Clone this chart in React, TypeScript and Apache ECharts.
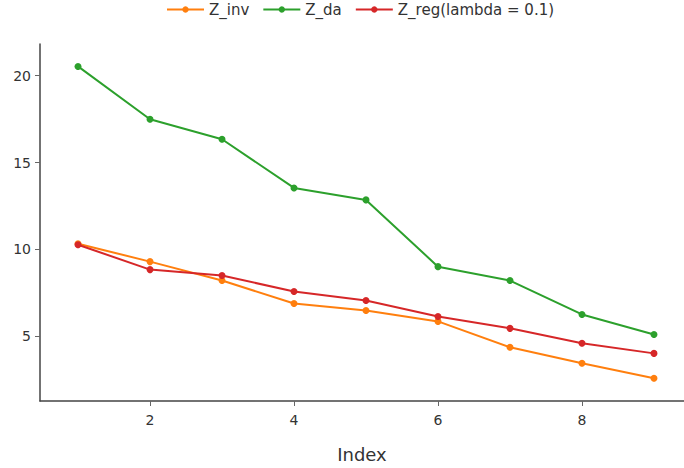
import React, { useEffect, useRef } from "react";
import * as echarts from "echarts";

const indices = [1, 2, 3, 4, 5, 6, 7, 8, 9];
const zInv = [10.33, 9.3, 8.21, 6.89, 6.49, 5.86, 4.37, 3.45, 2.59];
const zDa = [20.53, 17.49, 16.34, 13.54, 12.85, 9.01, 8.21, 6.26, 5.11];
const zReg = [10.27, 8.84, 8.5, 7.58, 7.06, 6.14, 5.46, 4.6, 4.02];
const xTicks = [2, 4, 6, 8];
const yTicks = [5, 10, 15, 20];
const seriesNames = ["Z_inv", "Z_da", "Z_reg(lambda = 0.1)"];
const colors = ["#ff7f0e", "#2ca02c", "#d62728"];

const FONT = "DejaVu Sans, Verdana, sans-serif";

export default function App() {
  const ref = useRef<HTMLDivElement>(null);
  useEffect(() => {
    if (!ref.current) return;
    const chart = echarts.init(ref.current, undefined, { renderer: "svg" });
    const datasets = [zInv, zDa, zReg];
    chart.setOption({
      animation: false,
      textStyle: { fontFamily: FONT },
      legend: {
        top: 2,
        left: 166,
        padding: 0,
        itemWidth: 37,
        itemHeight: 8,
        itemGap: 13,
        textStyle: { fontFamily: FONT, fontSize: 15, color: "#333" },
        data: seriesNames,
      },
      grid: { left: 40, right: 0, top: 44, bottom: 66, containLabel: false },
      xAxis: {
        type: "value",
        min: 0.472,
        max: 9.417,
        name: "Index",
        nameLocation: "middle",
        nameGap: 44,
        nameTextStyle: { fontFamily: FONT, fontSize: 18, color: "#333" },
        axisLine: { show: true, lineStyle: { color: "#444", width: 1.5 } },
        axisTick: { show: true, length: 5, lineStyle: { color: "#666" }, customValues: xTicks },
        axisLabel: { fontFamily: FONT, fontSize: 14, color: "#333", margin: 12, customValues: xTicks },
        splitLine: { show: false },
      },
      yAxis: {
        type: "value",
        min: 1.28,
        max: 21.82,
        axisLine: { show: true, lineStyle: { color: "#444", width: 1.5 } },
        axisTick: { show: true, length: 5, lineStyle: { color: "#666" }, customValues: yTicks },
        axisLabel: { fontFamily: FONT, fontSize: 14, color: "#333", margin: 9, customValues: yTicks },
        splitLine: { show: false },
      },
      series: datasets.map((d, i) => ({
        name: seriesNames[i],
        type: "line",
        data: indices.map((x, j) => [x, d[j]]),
        symbol: "circle",
        symbolSize: 7,
        color: colors[i],
        lineStyle: { width: 2, color: colors[i] },
        itemStyle: { color: colors[i] },
      })),
    });
    return () => chart.dispose();
  }, []);
  return <div ref={ref} style={{ width: 684, height: 468, position: "absolute", left: 0, top: 0 }} />;
}
